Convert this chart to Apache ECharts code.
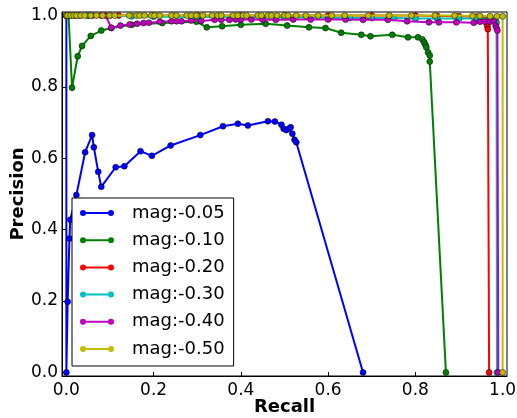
<!DOCTYPE html>
<html>
<head>
<meta charset="utf-8">
<script src="https://cdn.jsdelivr.net/npm/echarts@6/dist/echarts.min.js"></script>
<style>
html,body{margin:0;padding:0;background:#fff;}
#chart{width:517px;height:418px;}
</style>
</head>
<body>
<div id="chart"></div>
<script>
// ---- data (recall, precision) ----
const seriesNames = ['mag:-0.05', 'mag:-0.10', 'mag:-0.20', 'mag:-0.30', 'mag:-0.40', 'mag:-0.50'];
const seriesColors = ['#0000ff', '#008000', '#ff0000', '#00bfbf', '#bf00bf', '#bfbf00'];
const tickValues = [0, 0.2, 0.4, 0.6, 0.8, 1.0];

const mag005 = [
  [0, 1.0], [0, 0], [0.003, 0.198], [0.007, 0.375], [0.009, 0.428], [0.023, 0.497],
  [0.043, 0.617], [0.059, 0.665], [0.063, 0.631], [0.073, 0.562], [0.080, 0.520],
  [0.113, 0.575], [0.133, 0.578], [0.170, 0.620], [0.196, 0.607], [0.239, 0.636],
  [0.307, 0.665], [0.359, 0.690], [0.393, 0.697], [0.416, 0.692], [0.462, 0.704],
  [0.478, 0.703], [0.493, 0.694], [0.498, 0.683], [0.504, 0.679], [0.510, 0.683],
  [0.514, 0.687], [0.518, 0.669], [0.523, 0.652], [0.527, 0.645], [0.680, 0]
];
const mag010 = [
  [0.005, 1.0], [0.013, 0.798], [0.026, 0.886], [0.036, 0.915], [0.056, 0.943],
  [0.080, 0.958], [0.103, 0.965], [0.15, 0.974], [0.22, 0.979], [0.298, 0.983],
  [0.322, 0.967], [0.357, 0.970], [0.400, 0.974], [0.457, 0.977], [0.506, 0.972],
  [0.556, 0.967], [0.594, 0.965], [0.630, 0.952], [0.676, 0.946], [0.697, 0.942],
  [0.747, 0.946], [0.783, 0.939], [0.806, 0.939], [0.816, 0.933], [0.820, 0.925],
  [0.823, 0.918], [0.825, 0.911], [0.829, 0.897], [0.833, 0.888], [0.833, 0.871],
  [0.870, 0]
];
const mag020 = [
  [0, 1.0], [0.02, 1.0], [0.05, 1.0], [0.08, 1.0], [0.12, 1.0], [0.2, 1.0],
  [0.3, 1.0], [0.4, 1.0], [0.5, 1.0], [0.6, 1.0], [0.7, 1.0], [0.8, 1.0],
  [0.85, 0.999], [0.9, 0.998], [0.94, 0.997], [0.960, 0.99], [0.964, 0.98],
  [0.965, 0.97], [0.966, 0.962], [0.969, 0]
];
const mag030 = [
  [0, 1.0], [0.01, 1.0], [0.05, 1.0], [0.1, 1.0], [0.15, 0.998], [0.2, 0.997],
  [0.3, 0.996], [0.4, 0.995], [0.5, 0.995], [0.6, 0.994], [0.65, 0.993],
  [0.7, 0.993], [0.75, 0.993], [0.8, 0.992], [0.85, 0.992], [0.9, 0.992],
  [0.94, 0.992], [0.97, 0.991], [0.98, 0.99], [0.984, 0.985], [0.986, 0.98],
  [0.987, 0]
];
const mag040 = [
  [0, 1.0], [0.03, 1.0], [0.06, 1.0], [0.09, 1.0], [0.103, 0.966], [0.124, 0.972],
  [0.145, 0.975], [0.162, 0.977], [0.177, 0.979], [0.189, 0.980], [0.214, 0.983],
  [0.241, 0.984], [0.253, 0.984], [0.264, 0.984], [0.286, 0.986], [0.309, 0.985],
  [0.340, 0.988], [0.355, 0.988], [0.374, 0.988], [0.388, 0.989], [0.400, 0.989],
  [0.424, 0.989], [0.45, 0.988], [0.48, 0.988], [0.52, 0.989], [0.56, 0.989],
  [0.60, 0.989], [0.64, 0.989], [0.68, 0.988], [0.737, 0.988], [0.781, 0.984],
  [0.831, 0.981], [0.854, 0.981], [0.894, 0.981], [0.934, 0.980], [0.948, 0.983],
  [0.959, 0.983], [0.971, 0.983], [0.980, 0.984], [0.984, 0.972], [0.986, 0.965],
  [0.988, 0.958], [0.990, 0]
];
const mag050 = [
  [0, 1.0], [0.003, 1.0], [0.010, 1.0], [0.017, 1.0], [0.023, 1.0], [0.033, 1.0],
  [0.042, 1.0], [0.056, 1.0], [0.069, 1.0], [0.083, 1.0], [0.099, 1.0], [0.111, 1.0],
  [0.144, 1.0], [0.161, 1.0], [0.168, 1.0], [0.179, 1.0], [0.195, 1.0], [0.202, 1.0],
  [0.214, 1.0], [0.241, 1.0], [0.252, 1.0], [0.276, 1.0], [0.286, 1.0], [0.298, 1.0],
  [0.313, 1.0], [0.334, 1.0], [0.347, 1.0], [0.355, 1.0], [0.382, 1.0], [0.393, 1.0],
  [0.405, 1.0], [0.413, 1.0], [0.439, 1.0], [0.447, 1.0], [0.462, 1.0], [0.470, 1.0],
  [0.483, 1.0], [0.500, 1.0], [0.508, 1.0], [0.527, 1.0], [0.549, 1.0], [0.577, 1.0],
  [0.608, 1.0], [0.638, 1.0], [0.692, 1.0], [0.740, 1.0], [0.791, 1.0], [0.845, 1.0],
  [0.890, 1.0], [0.931, 0.999], [0.948, 0.999], [0.971, 0.998], [0.987, 0.998],
  [1.0, 0.998], [1.0, 0]
];
const seriesData = [mag005, mag010, mag020, mag030, mag040, mag050];

// ---- chart ----
const FONT = 'DejaVu Sans';
const chart = echarts.init(document.getElementById('chart'), null, {renderer: 'canvas'});

// two dots joined by a line; all sub-paths wound the same way so nonzero fill unions them
const legendIcon = 'path://M3,0A3,3 0 1,1 3,6A3,3 0 1,1 3,0Z M31,0A3,3 0 1,1 31,6A3,3 0 1,1 31,0Z M3,2L31,2L31,4L3,4Z';

function mainAxisLabel() {
  return {
    customValues: tickValues,
    formatter: v => v.toFixed(1),
    color: '#000', fontFamily: FONT, fontSize: 17
  };
}

const option = {
  animation: false,
  backgroundColor: '#fff',
  grid: {
    left: 62, right: 10, top: 12, bottom: 42,
    containLabel: false, outerBoundsMode: 'none',
    show: true, borderColor: '#000', borderWidth: 1, backgroundColor: 'transparent'
  },
  legend: {
    orient: 'vertical',
    left: 72, top: 198,
    padding: [5, 9, 7, 8],
    itemGap: 7.2,
    itemWidth: 34, itemHeight: 6,
    icon: legendIcon,
    itemStyle: {borderWidth: 0},
    selectedMode: false,
    borderColor: '#000', borderWidth: 1, borderRadius: 0,
    backgroundColor: '#fff',
    z: 10,
    textStyle: {color: '#000', fontFamily: FONT, fontSize: 18, lineHeight: 20, padding: [0, 0, 0, 13]},
    data: seriesNames
  },
  xAxis: [{
    type: 'value', min: -0.01, max: 1.01,
    name: 'Recall', nameLocation: 'middle', nameGap: 22, nameMoveOverlap: false,
    nameTextStyle: {color: '#000', fontFamily: FONT, fontSize: 18, fontWeight: 'bold', verticalAlign: 'top'},
    axisLine: {show: true, onZero: false, lineStyle: {color: '#000', width: 1}},
    axisTick: {show: true, inside: true, length: 4, customValues: tickValues, lineStyle: {color: '#000'}},
    axisLabel: Object.assign(mainAxisLabel(), {margin: 6}),
    splitLine: {show: false}
  }, {
    type: 'value', min: -0.01, max: 1.01, position: 'top',
    axisLine: {show: false},
    axisTick: {show: true, inside: true, length: 4, customValues: tickValues, lineStyle: {color: '#000'}},
    axisLabel: {show: false},
    splitLine: {show: false}
  }],
  yAxis: [{
    type: 'value', min: -0.01, max: 1.01,
    name: 'Precision', nameLocation: 'middle', nameGap: 35, nameMoveOverlap: false,
    nameTextStyle: {color: '#000', fontFamily: FONT, fontSize: 18, fontWeight: 'bold'},
    axisLine: {show: true, onZero: false, lineStyle: {color: '#000', width: 1}},
    axisTick: {show: true, inside: true, length: 4, customValues: tickValues, lineStyle: {color: '#000'}},
    axisLabel: Object.assign(mainAxisLabel(), {margin: 4}),
    splitLine: {show: false}
  }, {
    type: 'value', min: -0.01, max: 1.01, position: 'right',
    axisLine: {show: false},
    axisTick: {show: true, inside: true, length: 4, customValues: tickValues, lineStyle: {color: '#000'}},
    axisLabel: {show: false},
    splitLine: {show: false}
  }],
  series: seriesNames.map((name, i) => ({
    name: name,
    type: 'line',
    xAxisIndex: 0, yAxisIndex: 0,
    data: seriesData[i],
    color: seriesColors[i],
    showSymbol: true,
    showAllSymbol: true,
    symbol: 'circle',
    symbolSize: 6,
    clip: false,
    lineStyle: {color: seriesColors[i], width: 2},
    itemStyle: {color: seriesColors[i], borderColor: '#000', borderWidth: 0.5},
    emphasis: {disabled: true},
    z: 2 + i
  }))
};
chart.setOption(option);
</script>
</body>
</html>
